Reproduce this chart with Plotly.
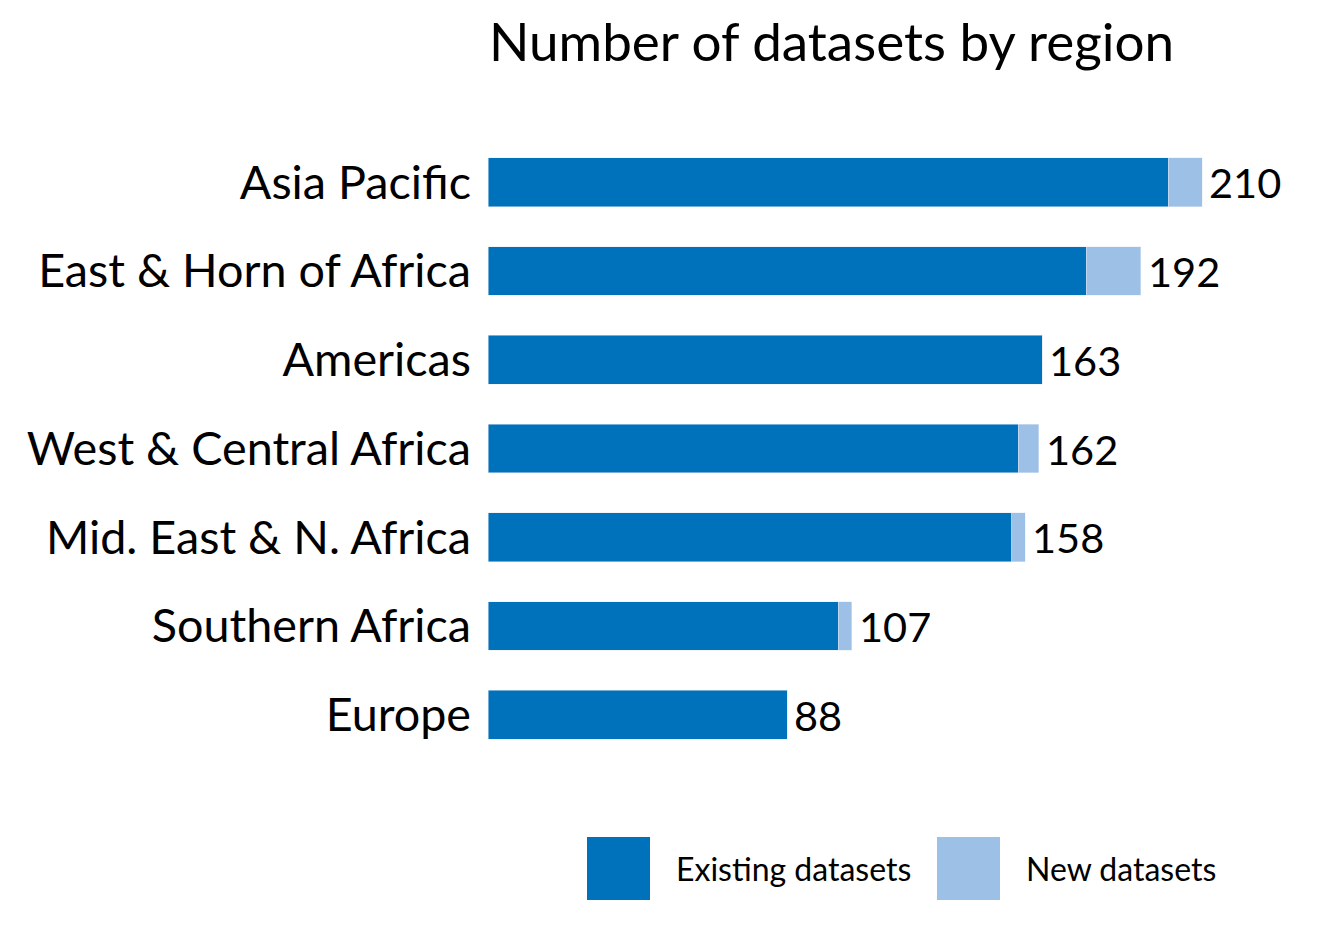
import plotly.graph_objects as go

# Data
regions = ['Asia Pacific', 'East & Horn of Africa', 'Americas', 'West & Central Africa',
           'Mid. East & N. Africa', 'Southern Africa', 'Europe']
existing = [200, 176, 163, 156, 154, 103, 88]
new = [10, 16, 0, 6, 4, 4, 0]
totals = [e + n for e, n in zip(existing, new)]

DARK = '#0072BC'
LIGHT = '#9DC1E6'
FONT = 'Lato'

W, H = 1332, 948
M_L, M_R, M_T, M_B = 480, 36, 130, 197

fig = go.Figure()
fig.add_trace(go.Bar(y=regions, x=existing, orientation='h', marker_color=DARK,
                     name='Existing datasets', hoverinfo='x+y'))
fig.add_trace(go.Bar(y=regions, x=new, orientation='h', marker_color=LIGHT,
                     name='New datasets', hoverinfo='x+y'))

# value labels at the end of each stacked bar
for r, t in zip(regions, totals):
    fig.add_annotation(x=t, y=r, text=str(t), showarrow=False, xanchor='left',
                       xshift=5, font=dict(size=41.5, color='black', family=FONT))

# custom legend with large swatches (pixel positions converted to paper coords)
pw = W - M_L - M_R
ph = H - M_T - M_B


def px(x):
    return (x - M_L) / pw


def py(y):
    return (H - M_B - y) / ph


legend_items = [('Existing datasets', DARK, 579, 666), ('New datasets', LIGHT, 929, 1016)]
for label, col, sx, tx in legend_items:
    fig.add_shape(type='rect', xref='paper', yref='paper',
                  x0=px(sx), x1=px(sx + 63), y0=py(892), y1=py(829),
                  fillcolor=col, line_width=0)
    fig.add_annotation(xref='paper', yref='paper', x=px(tx), y=py(861), text=label,
                       showarrow=False, xanchor='left', yanchor='middle',
                       font=dict(size=32, color='black', family=FONT))

fig.update_layout(
    width=W, height=H,
    barmode='stack',
    bargap=0.45,
    showlegend=False,
    plot_bgcolor='white',
    paper_bgcolor='white',
    margin=dict(l=M_L, r=M_R, t=M_T, b=M_B),
    font=dict(family=FONT, color='black'),
    title=dict(text='Number of datasets by region', x=px(481), xanchor='left',
               xref='paper', y=1 - 34 / H, yanchor='middle', yref='container',
               font=dict(size=53, color='black', family=FONT)),
)
fig.update_xaxes(range=[0, 240], visible=False)
fig.update_yaxes(autorange='reversed', showgrid=False, showline=False, zeroline=False,
                 ticks='', ticklabelstandoff=16,
                 tickfont=dict(size=46.7, color='black', family=FONT))

fig.write_html('out.html')
